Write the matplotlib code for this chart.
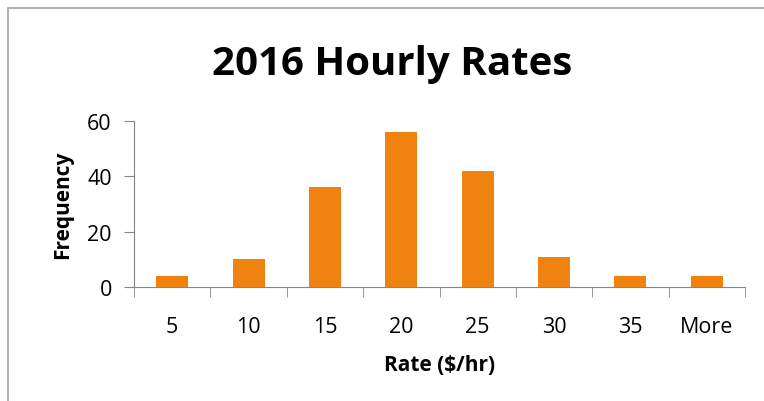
import matplotlib.pyplot as plt
from matplotlib.patches import Rectangle
import numpy as np

plt.rcParams['font.family'] = ['Open Sans', 'DejaVu Sans']

bins = ['5', '10', '15', '20', '25', '30', '35', 'More']
freq = [4, 10, 36, 56, 42, 11, 4, 4]

fig = plt.figure(figsize=(7.64, 4.02), dpi=100)
ax = fig.add_axes([134/764, 1 - 288/402, (745 - 134)/764, (288 - 122)/402])

x = np.arange(len(bins))
ax.bar(x, freq, width=0.42, color='#F0820F')

ax.set_xlim(-0.5, len(bins) - 0.5)
ax.set_ylim(0, 60)
ax.set_yticks([0, 20, 40, 60])
ax.set_xticks(x)
ax.set_xticklabels(bins)
ax.set_xticks(np.arange(len(bins) + 1) - 0.5, minor=True)
ax.tick_params(axis='x', which='major', length=0, pad=21, labelsize=15.5)
ax.tick_params(axis='x', which='minor', length=7, color='#868686')
ax.tick_params(axis='y', length=7, color='#868686', labelsize=15.5, pad=9)

for s in ['top', 'right']:
    ax.spines[s].set_visible(False)
for s in ['left', 'bottom']:
    ax.spines[s].set_color('#868686')

ax.set_ylabel('Frequency', fontsize=15, fontweight='bold', labelpad=10)
ax.set_xlabel('Rate ($/hr)', fontsize=15, fontweight='bold', labelpad=12)

fig.text(392/764, 1 - 65/402, '2016 Hourly Rates', fontsize=29, fontweight='bold',
         ha='center', va='center')

fig.patches.append(Rectangle((8/764, -0.2), 1.2, 1 - 9/402 + 0.2, transform=fig.transFigure,
                             fill=False, edgecolor='#A6A6A6', linewidth=1.2))

fig.savefig('out.png', dpi=100)
